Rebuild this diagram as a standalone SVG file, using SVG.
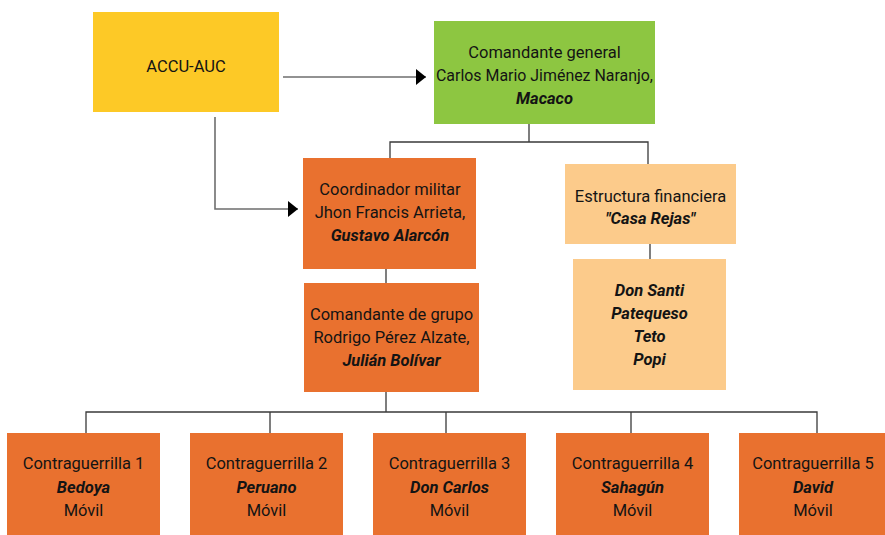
<svg xmlns="http://www.w3.org/2000/svg" width="885" height="535" viewBox="0 0 885 535">
<style>
text{font-family:Roboto,"Liberation Sans",Arial,sans-serif;font-size:16.5px;fill:#141414;text-anchor:middle}
.b{font-weight:bold;font-style:italic}
.yel{fill:#FDC926}
.grn{fill:#8DC641}
.org{fill:#E9712F}
.lor{fill:#FCCB8B}
.tree{fill:none;stroke:#3a3a3a;stroke-width:1.3}
.arr{fill:none;stroke:#6e6e6e;stroke-width:1.6}
</style>
<defs>
<marker id="ah" markerWidth="10" markerHeight="16" refX="10" refY="8" orient="auto" markerUnits="userSpaceOnUse">
<path d="M0,0 L10,8 L0,16 Z" fill="#000"/>
</marker>
</defs>
<rect width="885" height="535" fill="#fff"/>
<g id="connectors">
<path class="arr" d="M283,77 H426" marker-end="url(#ah)"/>
<path class="arr" d="M215,117 V209 H298" marker-end="url(#ah)"/>
<path class="tree" d="M529,124 V142 M390,158 V142 H648 V164"/>
<path class="tree" d="M386,269 V283"/>
<path class="tree" d="M650,244 V259"/>
<path class="tree" d="M386,392 V412 M86,433 V412 H817 V433 M270,412 V433 M446,412 V433 M631,412 V433"/>
</g>
<g id="accu">
<rect class="yel" x="93" y="12" width="186" height="100"/>
<text x="186" y="72">ACCU-AUC</text>
</g>
<g id="comandante-general">
<rect class="grn" x="434" y="21" width="221" height="103"/>
<text x="544.5" y="58">Comandante general</text>
<text x="544.5" y="81" textLength="217" lengthAdjust="spacingAndGlyphs">Carlos Mario Jiménez Naranjo,</text>
<text class="b" x="544.5" y="104">Macaco</text>
</g>
<g id="coordinador">
<rect class="org" x="303" y="158" width="173" height="111"/>
<text x="390" y="195">Coordinador militar</text>
<text x="390" y="218">Jhon Francis Arrieta,</text>
<text class="b" x="390" y="241">Gustavo Alarcón</text>
</g>
<g id="comandante-grupo">
<rect class="org" x="304" y="283" width="175" height="109"/>
<text x="391.5" y="320">Comandante de grupo</text>
<text x="391.5" y="343">Rodrigo Pérez Alzate,</text>
<text class="b" x="391.5" y="366">Julián Bolívar</text>
</g>
<g id="estructura">
<rect class="lor" x="565" y="164" width="171" height="80"/>
<text x="650.5" y="202">Estructura financiera</text>
<text class="b" x="650.5" y="224">"Casa Rejas"</text>
</g>
<g id="nombres">
<rect class="lor" x="573" y="259" width="153" height="131"/>
<text class="b" x="649.5" y="296">Don Santi</text>
<text class="b" x="649.5" y="319">Patequeso</text>
<text class="b" x="649.5" y="342">Teto</text>
<text class="b" x="649.5" y="365">Popi</text>
</g>
<g id="c1">
<rect class="org" x="7" y="433" width="153" height="102"/>
<text x="83.5" y="469">Contraguerrilla 1</text>
<text class="b" x="83.5" y="493">Bedoya</text>
<text x="83.5" y="516">Móvil</text>
</g>
<g id="c2">
<rect class="org" x="190" y="433" width="153" height="102"/>
<text x="266.5" y="469">Contraguerrilla 2</text>
<text class="b" x="266.5" y="493">Peruano</text>
<text x="266.5" y="516">Móvil</text>
</g>
<g id="c3">
<rect class="org" x="373" y="433" width="153" height="102"/>
<text x="449.5" y="469">Contraguerrilla 3</text>
<text class="b" x="449.5" y="493">Don Carlos</text>
<text x="449.5" y="516">Móvil</text>
</g>
<g id="c4">
<rect class="org" x="556" y="433" width="153" height="102"/>
<text x="632.5" y="469">Contraguerrilla 4</text>
<text class="b" x="632.5" y="493">Sahagún</text>
<text x="632.5" y="516">Móvil</text>
</g>
<g id="c5">
<rect class="org" x="739" y="433" width="146" height="102"/>
<text x="813" y="469">Contraguerrilla 5</text>
<text class="b" x="813" y="493">David</text>
<text x="813" y="516">Móvil</text>
</g>
</svg>
